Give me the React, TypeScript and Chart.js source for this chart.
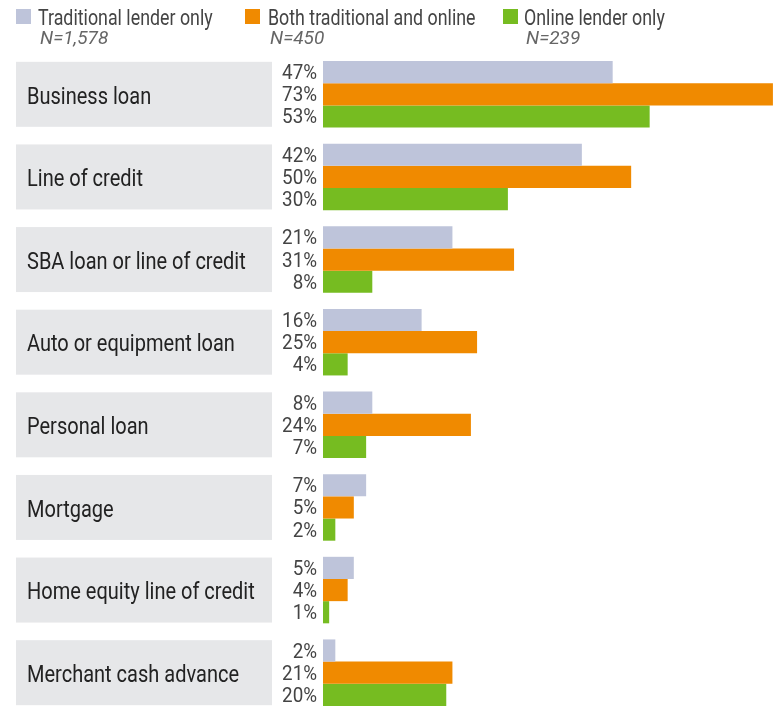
import React, { useEffect, useRef } from "react";
import { Chart, registerables } from "chart.js";

Chart.register(...registerables);

const categories = [
  "Business loan",
  "Line of credit",
  "SBA loan or line of credit",
  "Auto or equipment loan",
  "Personal loan",
  "Mortgage",
  "Home equity line of credit",
  "Merchant cash advance",
];
const seriesNames = ["Traditional lender only", "Both traditional and online", "Online lender only"];
const sampleSizes = ["N=1,578", "N=450", "N=239"];
const traditional = [47, 42, 21, 16, 8, 7, 5, 2];
const both = [73, 50, 31, 25, 24, 5, 4, 21];
const online = [53, 30, 8, 4, 7, 2, 1, 20];

const colors = ["#bec4da", "#f08a00", "#76bc21"];
const FONT = 'Roboto, "Liberation Sans", sans-serif';

// draw text horizontally condensed (emulates a condensed typeface)
function condensedText(ctx: CanvasRenderingContext2D, text: string, x: number, y: number, sx: number) {
  ctx.save();
  ctx.translate(x, y);
  ctx.scale(sx, 1);
  ctx.fillText(text, 0, 0);
  ctx.restore();
}

const decorPlugin = {
  id: "decor",
  beforeDatasetsDraw(chart: any) {
    const ctx: CanvasRenderingContext2D = chart.ctx;
    const y = chart.scales.y;
    ctx.save();
    categories.forEach((c, i) => {
      const cy = y.getPixelForValue(i);
      ctx.fillStyle = "#e6e7e9";
      ctx.fillRect(16, cy - 32.5, 256, 65);
      ctx.fillStyle = "#222";
      ctx.font = `23px ${FONT}`;
      ctx.textAlign = "left";
      ctx.textBaseline = "middle";
      condensedText(ctx, c, 27, cy + 3.5, 0.87);
    });
    // legend
    const sqX = [16, 245, 503];
    const txX = [38, 268, 524];
    seriesNames.forEach((s, i) => {
      ctx.fillStyle = colors[i];
      ctx.fillRect(sqX[i], 9, 15, 15);
      ctx.fillStyle = "#444";
      ctx.font = `22px ${FONT}`;
      ctx.textAlign = "left";
      ctx.textBaseline = "alphabetic";
      condensedText(ctx, s, txX[i], 25, 0.81);
      ctx.fillStyle = "#666";
      ctx.font = `italic 19px ${FONT}`;
      condensedText(ctx, sampleSizes[i], txX[i] + 2, 44, 1);
    });
    ctx.restore();
  },
  afterDatasetsDraw(chart: any) {
    const ctx: CanvasRenderingContext2D = chart.ctx;
    ctx.save();
    ctx.fillStyle = "#444";
    ctx.font = `20px ${FONT}`;
    ctx.textAlign = "right";
    ctx.textBaseline = "middle";
    chart.data.datasets.forEach((ds: any, di: number) => {
      const meta = chart.getDatasetMeta(di);
      meta.data.forEach((el: any, i: number) => {
        condensedText(ctx, ds.data[i] + "%", chart.chartArea.left - 6, el.y + 2, 0.94);
      });
    });
    ctx.restore();
  },
};

export default function App() {
  const ref = useRef<HTMLCanvasElement>(null);
  useEffect(() => {
    const chart = new Chart(ref.current!, {
      type: "bar",
      data: {
        labels: categories,
        datasets: [
          { label: seriesNames[0], data: traditional, backgroundColor: colors[0] },
          { label: seriesNames[1], data: both, backgroundColor: colors[1] },
          { label: seriesNames[2], data: online, backgroundColor: colors[2] },
        ],
      },
      options: {
        indexAxis: "y",
        responsive: false,
        animation: false,
        datasets: { bar: { barPercentage: 1, categoryPercentage: 0.805 } },
        layout: { padding: { top: 53, bottom: 6, left: 323, right: 0 } },
        plugins: { legend: { display: false }, tooltip: { enabled: false } },
        scales: {
          x: { display: false, min: 0, max: 73.5 },
          y: { display: false },
        },
      },
      plugins: [decorPlugin],
    });
    return () => chart.destroy();
  }, []);
  return (
    <div style={{ position: "fixed", left: 0, top: 0, width: 776, height: 707, overflow: "hidden", background: "#fff" }}>
      <canvas ref={ref} width={776} height={720} style={{ display: "block" }} />
    </div>
  );
}
